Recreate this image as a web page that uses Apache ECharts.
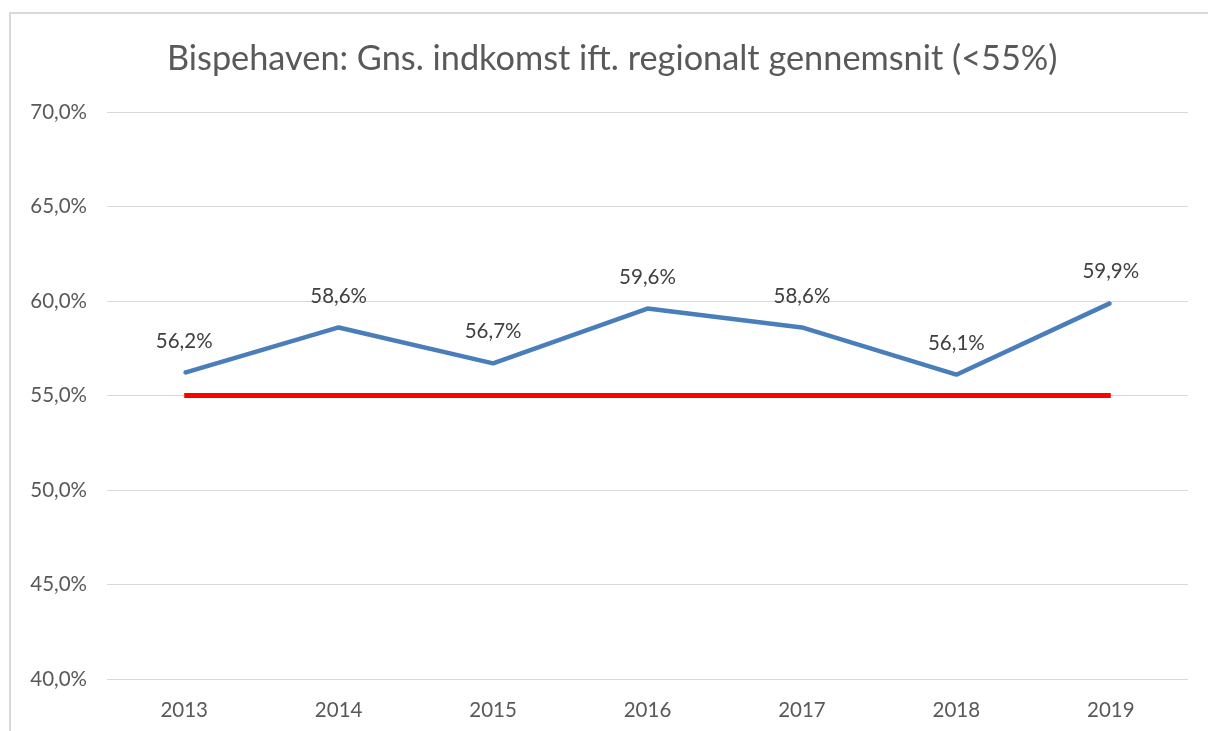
<!DOCTYPE html>
<html>
<head>
<meta charset="utf-8">
<script src="https://cdn.jsdelivr.net/npm/echarts@6/dist/echarts.min.js"></script>
<style>
  html, body { margin: 0; padding: 0; background: #fff; }
  #frame { position: absolute; left: 9px; top: 12px; width: 1300px; height: 800px;
           border-top: 2px solid #d9d9d9; border-left: 2px solid #d9d9d9; }
  #chart { position: absolute; left: 0; top: 0; width: 1208px; height: 731px; }
</style>
</head>
<body>
<div id="frame"></div>
<div id="chart"></div>
<script>
const years = ['2013', '2014', '2015', '2016', '2017', '2018', '2019']
const incomeShare = [56.2, 58.6, 56.7, 59.6, 58.6, 56.1, 59.9]
const threshold = [55, 55, 55, 55, 55, 55, 55]

const fmt = v => v.toFixed(1).replace('.', ',') + '%'
const font = 'Lato, "Open Sans", sans-serif'

const chart = echarts.init(document.getElementById('chart'))
chart.setOption({
  animation: false,
  title: {
    text: 'Bispehaven: Gns. indkomst ift. regionalt gennemsnit (<55%)',
    left: 162,
    top: 37,
    textStyle: { color: '#595959', fontSize: 34.3, fontWeight: 'normal', fontFamily: font }
  },
  grid: { left: 107, right: 20, top: 112, bottom: 52 },
  xAxis: {
    type: 'category',
    data: years,
    boundaryGap: true,
    axisLine: { show: false },
    axisTick: { show: false },
    axisLabel: { color: '#595959', fontSize: 20.5, fontFamily: font, margin: 21 }
  },
  yAxis: {
    type: 'value',
    min: 40,
    max: 70,
    interval: 5,
    axisLine: { show: false },
    axisTick: { show: false },
    axisLabel: { color: '#595959', fontSize: 20.5, fontFamily: font, margin: 20, formatter: fmt },
    splitLine: { lineStyle: { color: '#d9d9d9', width: 1 } }
  },
  series: [
    {
      type: 'line',
      data: threshold,
      symbol: 'none',
      lineStyle: { color: '#ff0000', width: 5 },
      z: 2
    },
    {
      type: 'line',
      data: incomeShare,
      symbol: 'circle',
      symbolSize: 2,
      showSymbol: true,
      itemStyle: { color: '#4a7ebb' },
      lineStyle: { color: '#4a7ebb', width: 4.5 },
      label: {
        show: true,
        position: 'top',
        distance: 20,
        color: '#404040',
        fontSize: 20.5,
        fontFamily: font,
        formatter: p => fmt(p.value)
      },
      z: 3
    }
  ]
})
</script>
</body>
</html>
